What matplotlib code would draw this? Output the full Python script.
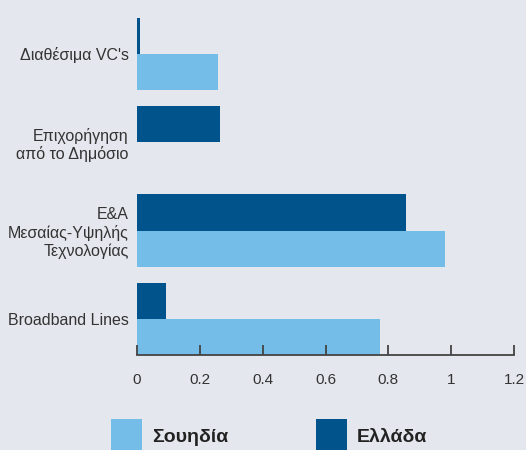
import numpy as np
from matplotlib import pyplot as plt

plt.rcParams['font.family'] = ['Liberation Sans Narrow', 'Liberation Sans', 'DejaVu Sans']

categories = ["Broadband Lines", "Ε&Α\nΜεσαίας-Υψηλής\nΤεχνολογίας",
              "Επιχορήγηση\nαπό το Δημόσιο", "Διαθέσιμα VC's"]
sweden = [0.774, 0.981, 0.0, 0.258]
greece = [0.092, 0.857, 0.264, 0.010]
xticks = [0, 0.2, 0.4, 0.6, 0.8, 1, 1.2]
xticklabels = ['0', '0.2', '0.4', '0.6', '0.8', '1', '1.2']

bg = '#e4e7ed'
light = '#74bde8'
dark = '#00538b'
txt = '#333333'

fig = plt.figure(figsize=(5.26, 4.5), dpi=100, facecolor=bg)
ax = fig.add_axes([0.2605, 0.2111, 0.7167, 0.767])
ax.set_facecolor(bg)

y = np.arange(len(categories))
h = 0.41
b1 = ax.barh(y - h/2, sweden, height=h, color=light, label='Σουηδία')
b2 = ax.barh(y + h/2, greece, height=h, color=dark, label='Ελλάδα')

ax.set_xlim(0, 1.2)
ax.set_ylim(-h, 3.5)
ax.set_xticks(xticks)
ax.set_xticklabels(xticklabels)
ax.set_yticks(y)
ax.set_yticklabels(categories, fontsize=11.5, color=txt, linespacing=1.2)

for s in ['top', 'right', 'left']:
    ax.spines[s].set_visible(False)
ax.spines['bottom'].set_color('#444444')
ax.spines['bottom'].set_linewidth(1.3)
ax.tick_params(axis='y', length=0, pad=6)
ax.tick_params(axis='x', direction='in', length=7, width=1.3, color='#444444',
               labelsize=11, labelcolor=txt, pad=13)

# legend sits at the bottom edge and is partly cut off, as in the original
leg = fig.legend(handles=[b1, b2], loc='upper left', bbox_to_anchor=(0.211, 0.069),
                 ncol=2, frameon=False, borderpad=0, borderaxespad=0,
                 handlelength=1.6, handleheight=2.4, handletextpad=0.5,
                 columnspacing=4.5, prop={'size': 14, 'weight': 'bold'})
for t in leg.get_texts():
    t.set_color('#222222')

plt.savefig('out.png', dpi=100, facecolor=bg)
